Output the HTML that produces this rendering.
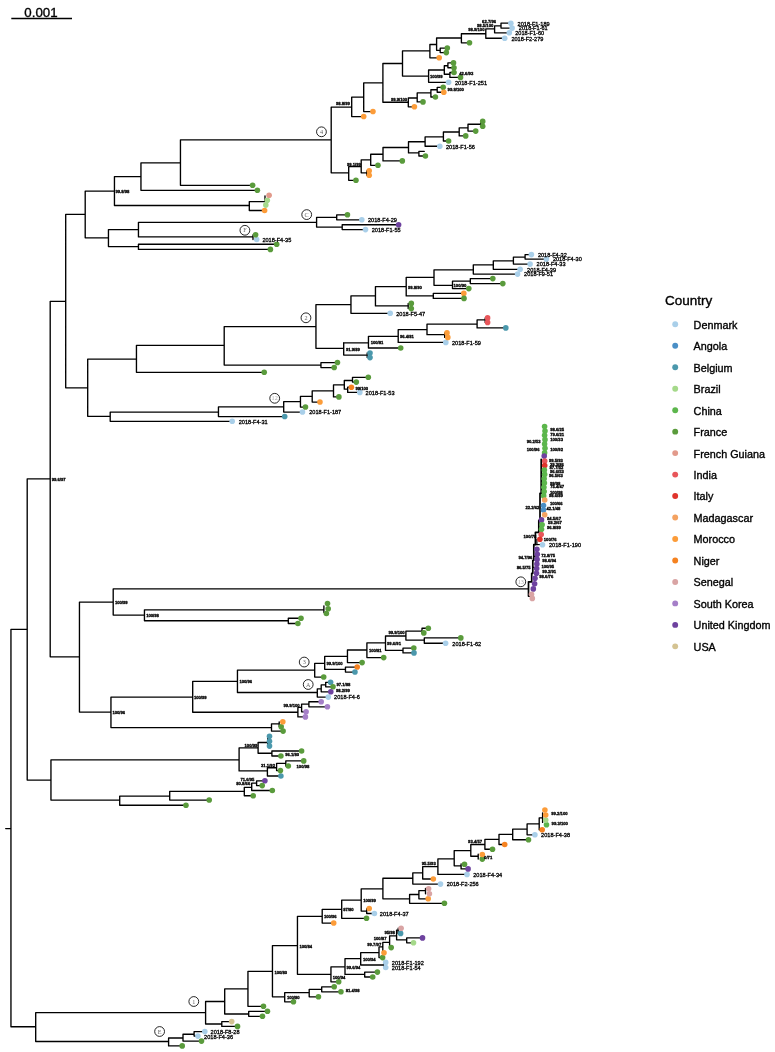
<!DOCTYPE html>
<html><head><meta charset="utf-8"><title>tree</title>
<style>
html,body{margin:0;padding:0;background:#fff;}
body{width:775px;height:1052px;overflow:hidden;font-family:"Liberation Sans",sans-serif;}
svg{display:block;}
.b{stroke:#000;stroke-width:1.35;fill:none;stroke-linecap:round;stroke-linejoin:round;}
.tl{font-family:"Liberation Sans",sans-serif;font-size:5.6px;fill:#000;stroke:#000;stroke-width:0.3;}
.sl{font-family:"Liberation Sans",sans-serif;font-size:4.2px;font-weight:bold;fill:#000;stroke:#000;stroke-width:0.3;}
.ct{font-family:"Liberation Serif",serif;font-size:6.2px;fill:#666;text-anchor:middle;}
.cc{fill:#fff;stroke:#000;stroke-width:0.85;}
.lg{font-family:"Liberation Sans",sans-serif;font-size:10.8px;fill:#000;stroke:#000;stroke-width:0.35;}
</style></head><body>
<svg width="775" height="1052" viewBox="0 0 775 1052">
<defs><filter id="nf" x="0" y="0" width="100%" height="100%" filterUnits="userSpaceOnUse" color-interpolation-filters="sRGB"><feOffset dx="0" dy="0"/></filter></defs>
<rect width="775" height="1052" fill="#fff"/>
<g filter="url(#nf)">

<line x1="11.3" y1="18.4" x2="72" y2="18.4" stroke="#000" stroke-width="1.5"/>
<text x="24.3" y="16.8" style="font-family:'Liberation Sans',sans-serif;font-size:13.3px;fill:#000;stroke:#000;stroke-width:0.35">0.001</text>
<g transform="translate(0.2,0.3)">
<path class="b" d="M5.50 828.25H10.75M10.75 629.00H27.00M27.00 478.50H50.00M50.00 301.00H65.50M65.50 214.00H85.00M85.00 190.75H114.25M114.25 176.25H140.75M140.75 162.50H180.25M180.25 139.50H331.00M180.25 185.00H252.40M140.75 190.00H257.20M114.25 205.20H249.10M249.10 201.30H264.80M249.10 210.20H264.40M85.00 237.50H108.25M108.25 229.25H138.25M138.25 222.00H316.40M138.25 236.60H252.80M108.25 246.25H138.25M138.25 243.90H276.50M138.25 249.10H270.20M331.00 106.75H351.50M351.50 116.25H363.50M351.50 96.75H363.50M363.50 111.25H372.75M363.50 82.50H382.70M382.70 63.20H402.30M402.30 50.60H429.70M429.70 57.50H439.00M429.70 44.20H436.40M436.40 37.70H461.20M461.20 42.50H469.30M461.20 33.40H485.60M485.60 37.90H504.50M485.60 28.60H494.40M494.40 32.50H509.10M494.40 25.50H500.80M500.80 22.90H510.70M500.80 27.80H511.90M436.40 50.00H440.00M440.00 52.30H446.10M440.00 47.80H447.10M402.30 75.80H428.40M428.40 82.00H448.40M428.40 69.70H444.10M444.10 65.50H447.70M447.70 62.60H453.30M447.70 67.40H453.80M444.10 73.90H449.70M449.70 72.20H453.80M449.70 77.10H460.30M382.70 101.90H408.10M408.10 106.50H414.20M408.10 97.70H417.00M417.00 101.60H422.80M417.00 92.60H430.70M430.70 96.70H435.20M430.70 89.40H437.00M437.00 87.00H443.00M437.00 91.90H443.60M331.00 172.50H348.50M348.50 180.00H355.75M348.50 166.25H361.00M361.00 172.50H366.50M361.00 159.50H370.50M370.50 165.00H377.75M370.50 153.90H382.80M382.80 160.60H402.10M382.80 147.20H408.30M408.30 152.60H418.70M418.70 151.00H424.10M418.70 155.70H425.20M408.30 141.40H424.90M424.90 145.90H439.60M424.90 136.60H443.20M443.20 140.70H448.40M443.20 131.70H459.00M459.00 135.60H465.50M459.00 127.50H467.80M467.80 130.80H475.50M467.80 123.90H480.60M316.40 217.00H336.50M336.50 214.50H347.25M336.50 219.50H361.60M316.40 226.75H342.00M342.00 224.40H398.40M342.00 229.30H365.30M65.50 387.50H87.50M87.50 358.75H136.25M136.25 345.00H224.00M224.00 326.25H315.75M315.75 304.25H350.75M350.75 313.00H390.00M350.75 295.50H375.25M375.25 305.60H408.00M375.25 286.30H406.00M406.00 277.00H433.80M433.80 269.50H473.10M473.10 273.80H517.40M473.10 264.50H493.10M493.10 269.00H519.90M493.10 260.50H513.20M513.20 263.80H529.90M513.20 256.80H524.90M524.90 254.30H531.20M524.90 258.80H546.20M433.80 285.00H452.30M452.30 288.30H468.60M452.30 280.80H470.10M470.10 278.30H492.60M470.10 283.30H502.60M406.00 295.60H433.10M433.10 293.10H463.60M433.10 298.10H463.80M315.75 348.00H343.50M343.50 354.80H367.00M343.50 342.50H368.25M368.25 347.70H400.50M368.25 336.00H398.00M398.00 342.10H445.60M398.00 329.40H426.80M426.80 334.40H444.50M426.80 323.90H476.90M476.90 327.60H505.60M476.90 319.60H485.00M224.00 364.75H320.75M320.75 362.25H337.25M320.75 367.25H334.00M136.25 372.00H264.00M87.50 416.00H110.00M110.00 421.00H232.00M110.00 411.75H218.25M218.25 416.25H284.50M218.25 406.60H283.50M283.50 411.75H302.25M283.50 401.25H300.25M300.25 406.75H305.25M300.25 396.00H312.00M312.00 401.75H319.75M312.00 390.50H333.30M333.30 396.60H338.70M333.30 384.60H344.10M344.10 380.20H352.30M352.30 377.00H368.10M352.30 381.80H356.10M344.10 388.90H347.50M347.50 386.90H351.20M347.50 392.10H359.60M50.00 656.50H79.25M79.25 601.80H113.00M113.00 588.60H527.70M113.00 614.75H144.25M144.25 609.50H323.70M144.25 620.40H288.10M288.10 617.90H300.80M288.10 623.20H297.70M79.25 711.75H110.75M110.75 696.75H192.50M192.50 681.00H237.25M237.25 669.75H314.50M314.50 676.75H323.50M314.50 663.00H324.50M324.50 669.00H345.25M345.25 666.75H357.00M345.25 671.75H354.75M324.50 656.00H347.25M347.25 662.30H361.90M347.25 649.70H366.70M366.70 657.30H383.50M366.70 642.50H385.30M385.30 635.70H405.70M405.70 630.80H421.80M421.80 632.60H423.60M421.80 627.90H428.10M405.70 639.80H424.10M424.10 637.60H460.60M424.10 642.90H445.40M385.30 650.10H402.80M402.80 647.80H413.60M402.80 652.60H413.80M237.25 692.20H317.10M317.10 696.80H328.10M317.10 688.50H321.00M321.00 684.60H325.50M325.50 682.00H330.40M325.50 686.50H332.80M321.00 691.50H330.60M192.50 711.90H297.70M297.70 716.60H305.20M297.70 707.00H301.40M301.40 711.50H305.90M301.40 703.80H308.70M308.70 701.40H321.00M308.70 706.50H327.20M110.75 727.25H271.30M271.30 730.80H282.90M271.30 723.50H279.00M27.00 779.75H50.75M50.75 759.60H238.90M238.90 747.50H257.90M257.90 742.20H267.60M257.90 752.90H271.70M271.70 750.70H301.40M271.70 755.70H280.70M238.90 770.60H267.20M267.20 775.70H280.70M267.20 767.40H276.40M276.40 770.30H280.20M276.40 763.10H285.60M285.60 760.60H303.50M285.60 765.70H288.10M50.75 799.75H119.50M119.50 804.90H185.75M119.50 795.75H169.50M169.50 799.75H209.00M169.50 791.00H244.10M244.10 795.40H253.00M244.10 787.10H251.50M251.50 790.20H272.10M251.50 782.80H256.40M256.40 780.50H264.70M256.40 785.30H262.00M10.75 1026.50H35.50M35.50 1041.20H168.40M168.40 1045.60H182.00M168.40 1037.70H182.80M182.80 1040.80H201.30M182.80 1034.00H193.90M193.90 1035.80H197.70M193.90 1031.30H204.60M35.50 1012.30H205.40M205.40 1023.70H221.60M221.60 1021.30H231.50M221.60 1026.10H237.30M205.40 1001.20H224.50M224.50 1013.70H248.50M248.50 1011.00H267.25M248.50 1016.00H262.25M224.50 988.50H247.75M247.75 1006.00H263.25M247.75 971.00H272.25M272.25 996.50H284.50M284.50 1001.50H293.25M284.50 992.25H309.00M309.00 996.50H318.25M309.00 989.00H321.50M321.50 986.50H334.00M321.50 991.50H340.75M272.25 945.25H297.25M297.25 916.00H322.00M322.00 922.75H333.50M322.00 909.00H341.50M341.50 918.00H366.30M341.50 899.75H361.00M361.00 910.75H366.50M366.50 913.20H372.00M361.00 888.50H382.70M382.70 877.90H412.60M412.60 883.80H440.30M412.60 872.50H422.50M422.50 878.70H433.10M422.50 866.30H437.70M437.70 874.10H466.80M437.70 858.60H454.00M454.00 865.50H460.90M460.90 868.60H467.90M454.00 850.30H470.60M470.60 855.90H478.00M470.60 844.20H484.70M484.70 848.90H492.30M484.70 839.10H498.80M498.80 844.20H504.50M498.80 834.00H512.50M512.50 839.40H528.30M512.50 828.80H526.90M526.90 834.50H534.70M526.90 823.60H539.00M539.00 829.40H542.00M539.00 817.50H542.40M382.70 898.50H409.40M409.40 903.00H444.20M409.40 894.20H418.70M418.70 898.50H428.00M418.70 890.30H425.30M297.25 974.00H330.75M330.75 981.50H338.50M330.75 966.50H344.80M344.80 974.10H364.50M364.50 971.80H377.20M364.50 976.70H372.50M344.80 958.30H360.50M360.50 964.70H383.50M360.50 952.30H378.80M378.80 957.30H382.40M378.80 946.60H382.60M382.60 942.10H389.40M389.40 935.60H396.40M396.40 929.80H398.00M396.40 939.50H406.50M406.50 937.60H422.30M406.50 942.50H413.30M10.75 629.00V1026.50M27.00 478.50V779.75M50.00 301.00V656.50M65.50 214.00V387.50M85.00 190.75V237.50M114.25 176.25V205.20M140.75 162.50V190.00M180.25 139.50V185.00M249.10 201.30V210.20M264.80 195.50V201.30M108.25 229.25V246.25M138.25 222.00V236.60M252.80 234.50V239.20M138.25 243.90V249.10M331.00 106.75V172.50M351.50 96.75V116.25M363.50 82.50V111.25M382.70 63.20V101.90M402.30 50.60V75.80M429.70 44.20V57.50M436.40 37.70V50.00M461.20 33.40V42.50M485.60 28.60V37.90M494.40 25.50V32.50M500.80 22.90V27.80M440.00 47.80V52.30M428.40 69.70V82.00M444.10 65.50V73.90M447.70 62.60V67.40M449.70 72.20V77.10M408.10 97.70V106.50M417.00 92.60V101.60M430.70 89.40V96.70M437.00 87.00V91.90M348.50 166.25V180.00M361.00 159.50V172.50M366.50 170.50V175.00M370.50 153.90V165.00M382.80 147.20V160.60M408.30 141.40V152.60M418.70 151.00V155.70M424.90 136.60V145.90M443.20 131.70V140.70M459.00 127.50V135.60M467.80 123.90V130.80M480.60 121.10V126.10M316.40 217.00V226.75M336.50 214.50V219.50M342.00 224.40V229.30M87.50 358.75V416.00M136.25 345.00V372.00M224.00 326.25V364.75M315.75 304.25V348.00M350.75 295.50V313.00M375.25 286.30V305.60M408.00 303.10V308.30M406.00 277.00V295.60M433.80 269.50V285.00M473.10 264.50V273.80M493.10 260.50V269.00M513.20 256.80V263.80M524.90 254.30V258.80M452.30 280.80V288.30M470.10 278.30V283.30M433.10 293.10V298.10M343.50 342.30V354.80M367.00 352.70V357.30M368.25 336.00V347.70M398.00 329.40V342.10M426.80 323.90V334.40M444.50 332.60V337.10M476.90 319.60V327.60M485.00 317.60V322.10M320.75 362.25V367.25M110.00 411.75V421.00M218.25 406.75V416.25M283.50 401.25V411.75M300.25 396.00V406.75M312.00 390.50V401.75M333.30 384.60V396.60M344.10 380.20V388.90M352.30 377.00V381.80M347.50 386.90V392.10M79.25 601.80V711.75M113.00 588.60V614.75M144.25 609.50V620.40M323.70 605.50V612.20M288.10 617.90V623.20M110.75 696.75V727.25M192.50 681.00V711.90M237.25 669.75V692.20M314.50 663.00V676.75M324.50 656.00V669.00M345.25 666.75V671.75M347.25 649.70V662.30M366.70 642.50V657.30M385.30 635.70V650.10M405.70 630.80V639.80M421.80 627.90V632.60M424.10 637.60V642.90M402.80 647.80V652.60M317.10 688.50V696.80M321.00 684.60V691.50M325.50 682.00V686.50M297.70 707.00V716.60M301.40 703.80V711.50M308.70 701.40V706.50M271.30 723.50V730.80M279.00 721.50V726.30M50.75 759.60V799.75M238.90 747.50V770.60M257.90 742.20V752.90M267.60 736.00V745.80M271.70 750.70V755.70M267.20 767.40V775.70M276.40 763.10V770.30M285.60 760.60V765.70M119.50 795.75V804.90M169.50 791.00V799.75M244.10 787.10V795.40M251.50 782.80V790.20M256.40 780.50V785.30M35.50 1012.30V1041.20M168.40 1037.70V1045.60M182.80 1034.00V1040.80M193.90 1031.30V1035.80M205.40 1001.20V1023.70M221.60 1021.30V1026.10M224.50 988.50V1013.70M248.50 1011.00V1016.00M247.75 971.00V1006.00M272.25 945.25V996.50M284.50 992.25V1001.50M309.00 989.00V996.50M321.50 986.50V991.50M297.25 916.00V974.00M322.00 909.00V922.75M341.50 899.75V918.00M361.00 888.50V910.75M366.50 908.25V913.20M382.70 877.90V898.50M412.60 872.50V883.80M422.50 866.30V878.70M437.70 858.60V874.10M454.00 850.30V865.50M460.90 863.50V868.60M470.60 844.20V855.90M478.00 853.90V858.80M484.70 839.10V848.90M498.80 834.00V844.20M512.50 828.80V839.40M526.90 823.60V834.50M539.00 817.50V829.40M542.40 812.50V822.10M409.40 894.20V903.00M418.70 890.30V898.50M425.30 888.00V893.40M330.75 966.50V981.50M344.80 958.30V974.10M364.50 971.80V976.70M360.50 952.30V964.70M383.50 962.10V967.30M378.80 946.60V957.30M382.60 942.10V952.40M389.40 935.60V947.30M396.40 929.80V939.50M398.00 927.90V933.10M406.50 937.60V942.50"/>
<path d="M530.5 595.8H528.3V581.5H531.5V573H532.6V560H533.6V544.3H535.2V532H538.6V520H539.8V493H541V459" fill="none" stroke="#000" stroke-width="1.7" stroke-linejoin="round" stroke-linecap="round"/>
<line x1="536.7" y1="539" x2="536.7" y2="544.3" stroke="#000" stroke-width="1.15" stroke-linecap="square"/>
<line x1="535.2" y1="544.3" x2="540" y2="544.3" stroke="#000" stroke-width="1.15" stroke-linecap="square"/>
<line x1="533.6" y1="556" x2="535" y2="556" stroke="#000" stroke-width="1.15" stroke-linecap="square"/>
<line x1="532.6" y1="567" x2="534" y2="567" stroke="#000" stroke-width="1.15" stroke-linecap="square"/>
<circle cx="252.40" cy="185.00" r="2.8" fill="#5a9b3c"/>
<circle cx="257.20" cy="190.00" r="2.8" fill="#5a9b3c"/>
<circle cx="264.40" cy="210.20" r="2.8" fill="#fc9c39"/>
<circle cx="265.60" cy="204.80" r="2.8" fill="#a5d98a"/>
<circle cx="267.10" cy="199.90" r="2.8" fill="#a5d98a"/>
<circle cx="268.90" cy="195.00" r="2.8" fill="#e29a8b"/>
<circle cx="256.50" cy="239.20" r="2.8" fill="#a9cfe9"/>
<circle cx="255.40" cy="234.40" r="2.8" fill="#5a9b3c"/>
<circle cx="276.50" cy="243.90" r="2.8" fill="#5a9b3c"/>
<circle cx="270.20" cy="249.10" r="2.8" fill="#5a9b3c"/>
<circle cx="363.50" cy="116.25" r="2.8" fill="#fc9c39"/>
<circle cx="372.75" cy="111.25" r="2.8" fill="#fc9c39"/>
<circle cx="439.00" cy="57.50" r="2.8" fill="#fc9c39"/>
<circle cx="469.30" cy="42.50" r="2.8" fill="#5a9b3c"/>
<circle cx="504.50" cy="37.90" r="2.8" fill="#a9cfe9"/>
<circle cx="509.10" cy="32.50" r="2.8" fill="#a9cfe9"/>
<circle cx="510.70" cy="22.90" r="2.8" fill="#a9cfe9"/>
<circle cx="511.90" cy="27.80" r="2.8" fill="#a9cfe9"/>
<circle cx="446.10" cy="52.30" r="2.8" fill="#5a9b3c"/>
<circle cx="447.10" cy="47.80" r="2.8" fill="#5a9b3c"/>
<circle cx="448.40" cy="82.00" r="2.8" fill="#a9cfe9"/>
<circle cx="453.30" cy="62.60" r="2.8" fill="#5a9b3c"/>
<circle cx="453.80" cy="67.40" r="2.8" fill="#5a9b3c"/>
<circle cx="453.80" cy="72.20" r="2.8" fill="#5a9b3c"/>
<circle cx="460.30" cy="77.10" r="2.8" fill="#5a9b3c"/>
<circle cx="414.20" cy="106.50" r="2.8" fill="#fc9c39"/>
<circle cx="422.80" cy="101.60" r="2.8" fill="#5a9b3c"/>
<circle cx="435.20" cy="96.70" r="2.8" fill="#5a9b3c"/>
<circle cx="443.00" cy="87.00" r="2.8" fill="#5a9b3c"/>
<circle cx="443.60" cy="91.90" r="2.8" fill="#fc9c39"/>
<circle cx="355.75" cy="180.00" r="2.8" fill="#5a9b3c"/>
<circle cx="369.00" cy="170.50" r="2.8" fill="#fc9c39"/>
<circle cx="369.00" cy="175.00" r="2.8" fill="#fc9c39"/>
<circle cx="377.75" cy="165.00" r="2.8" fill="#5a9b3c"/>
<circle cx="402.10" cy="160.60" r="2.8" fill="#5a9b3c"/>
<circle cx="425.20" cy="155.70" r="2.8" fill="#5a9b3c"/>
<circle cx="439.60" cy="145.90" r="2.8" fill="#a9cfe9"/>
<circle cx="448.40" cy="140.70" r="2.8" fill="#5a9b3c"/>
<circle cx="465.50" cy="135.60" r="2.8" fill="#5a9b3c"/>
<circle cx="475.50" cy="130.80" r="2.8" fill="#5a9b3c"/>
<circle cx="482.50" cy="126.00" r="2.8" fill="#5a9b3c"/>
<circle cx="482.50" cy="121.10" r="2.8" fill="#5a9b3c"/>
<circle cx="347.25" cy="214.50" r="2.8" fill="#5a9b3c"/>
<circle cx="361.60" cy="219.50" r="2.8" fill="#a9cfe9"/>
<circle cx="398.40" cy="224.40" r="2.8" fill="#6e429f"/>
<circle cx="365.30" cy="229.30" r="2.8" fill="#a9cfe9"/>
<circle cx="390.00" cy="313.00" r="2.8" fill="#a9cfe9"/>
<circle cx="411.10" cy="308.30" r="2.8" fill="#5a9b3c"/>
<circle cx="411.10" cy="303.10" r="2.8" fill="#5a9b3c"/>
<circle cx="517.40" cy="273.80" r="2.8" fill="#a9cfe9"/>
<circle cx="519.90" cy="269.00" r="2.8" fill="#a9cfe9"/>
<circle cx="529.90" cy="263.80" r="2.8" fill="#a9cfe9"/>
<circle cx="531.20" cy="254.30" r="2.8" fill="#a9cfe9"/>
<circle cx="546.20" cy="258.80" r="2.8" fill="#a9cfe9"/>
<circle cx="468.60" cy="288.30" r="2.8" fill="#5a9b3c"/>
<circle cx="492.60" cy="278.30" r="2.8" fill="#5a9b3c"/>
<circle cx="502.60" cy="283.30" r="2.8" fill="#5a9b3c"/>
<circle cx="463.60" cy="293.10" r="2.8" fill="#fc9c39"/>
<circle cx="463.80" cy="298.10" r="2.8" fill="#5a9b3c"/>
<circle cx="369.80" cy="352.70" r="2.8" fill="#4b98ac"/>
<circle cx="369.80" cy="357.30" r="2.8" fill="#4b98ac"/>
<circle cx="400.50" cy="347.70" r="2.8" fill="#5a9b3c"/>
<circle cx="445.60" cy="342.10" r="2.8" fill="#a9cfe9"/>
<circle cx="446.80" cy="332.60" r="2.8" fill="#fc9c39"/>
<circle cx="447.60" cy="337.10" r="2.8" fill="#fc9c39"/>
<circle cx="505.60" cy="327.60" r="2.8" fill="#4b98ac"/>
<circle cx="487.40" cy="317.60" r="2.8" fill="#e8565a"/>
<circle cx="487.40" cy="322.10" r="2.8" fill="#e8565a"/>
<circle cx="337.25" cy="362.25" r="2.8" fill="#5a9b3c"/>
<circle cx="334.00" cy="367.25" r="2.8" fill="#5a9b3c"/>
<circle cx="264.00" cy="372.00" r="2.8" fill="#5a9b3c"/>
<circle cx="232.00" cy="421.00" r="2.8" fill="#a9cfe9"/>
<circle cx="284.50" cy="416.25" r="2.8" fill="#4b98ac"/>
<circle cx="302.25" cy="411.75" r="2.8" fill="#a9cfe9"/>
<circle cx="305.25" cy="406.75" r="2.8" fill="#5a9b3c"/>
<circle cx="319.75" cy="401.75" r="2.8" fill="#fc9c39"/>
<circle cx="338.70" cy="396.60" r="2.8" fill="#5a9b3c"/>
<circle cx="368.10" cy="377.00" r="2.8" fill="#5a9b3c"/>
<circle cx="356.10" cy="381.80" r="2.8" fill="#5a9b3c"/>
<circle cx="351.20" cy="386.90" r="2.8" fill="#f58220"/>
<circle cx="359.60" cy="392.10" r="2.8" fill="#a9cfe9"/>
<circle cx="326.20" cy="613.20" r="2.8" fill="#5a9b3c"/>
<circle cx="328.00" cy="608.40" r="2.8" fill="#5a9b3c"/>
<circle cx="327.30" cy="603.20" r="2.8" fill="#5a9b3c"/>
<circle cx="300.80" cy="617.90" r="2.8" fill="#5a9b3c"/>
<circle cx="297.70" cy="623.20" r="2.8" fill="#5a9b3c"/>
<circle cx="323.50" cy="676.75" r="2.8" fill="#5a9b3c"/>
<circle cx="357.00" cy="666.75" r="2.8" fill="#f58220"/>
<circle cx="354.75" cy="671.75" r="2.8" fill="#4b98ac"/>
<circle cx="361.90" cy="662.30" r="2.8" fill="#5a9b3c"/>
<circle cx="383.50" cy="657.30" r="2.8" fill="#5a9b3c"/>
<circle cx="423.60" cy="632.60" r="2.8" fill="#5a9b3c"/>
<circle cx="428.10" cy="627.90" r="2.8" fill="#5a9b3c"/>
<circle cx="460.60" cy="637.60" r="2.8" fill="#5a9b3c"/>
<circle cx="445.40" cy="642.90" r="2.8" fill="#a9cfe9"/>
<circle cx="413.60" cy="647.80" r="2.8" fill="#5a9b3c"/>
<circle cx="413.80" cy="652.60" r="2.8" fill="#4b98ac"/>
<circle cx="328.10" cy="696.80" r="2.8" fill="#a9cfe9"/>
<circle cx="330.40" cy="682.00" r="2.8" fill="#4b98ac"/>
<circle cx="332.80" cy="686.50" r="2.8" fill="#5a9b3c"/>
<circle cx="330.60" cy="691.50" r="2.8" fill="#6e429f"/>
<circle cx="305.20" cy="716.60" r="2.8" fill="#a57fc8"/>
<circle cx="305.90" cy="711.50" r="2.8" fill="#a57fc8"/>
<circle cx="321.00" cy="701.40" r="2.8" fill="#a57fc8"/>
<circle cx="327.20" cy="706.50" r="2.8" fill="#a57fc8"/>
<circle cx="282.90" cy="730.80" r="2.8" fill="#5a9b3c"/>
<circle cx="281.00" cy="726.40" r="2.8" fill="#5a9b3c"/>
<circle cx="282.60" cy="721.40" r="2.8" fill="#fc9c39"/>
<circle cx="269.30" cy="736.00" r="2.8" fill="#4b98ac"/>
<circle cx="269.30" cy="740.90" r="2.8" fill="#4b98ac"/>
<circle cx="269.30" cy="745.80" r="2.8" fill="#4b98ac"/>
<circle cx="301.40" cy="750.70" r="2.8" fill="#5a9b3c"/>
<circle cx="280.70" cy="755.70" r="2.8" fill="#5a9b3c"/>
<circle cx="280.70" cy="775.70" r="2.8" fill="#4b98ac"/>
<circle cx="280.20" cy="770.30" r="2.8" fill="#5a9b3c"/>
<circle cx="303.50" cy="760.60" r="2.8" fill="#5a9b3c"/>
<circle cx="288.10" cy="765.70" r="2.8" fill="#5a9b3c"/>
<circle cx="185.75" cy="804.90" r="2.8" fill="#5a9b3c"/>
<circle cx="209.00" cy="799.75" r="2.8" fill="#5a9b3c"/>
<circle cx="253.00" cy="795.40" r="2.8" fill="#5a9b3c"/>
<circle cx="272.10" cy="790.20" r="2.8" fill="#5a9b3c"/>
<circle cx="264.70" cy="780.50" r="2.8" fill="#6e429f"/>
<circle cx="262.00" cy="785.30" r="2.8" fill="#5a9b3c"/>
<circle cx="182.00" cy="1045.60" r="2.8" fill="#5a9b3c"/>
<circle cx="201.30" cy="1040.80" r="2.8" fill="#5a9b3c"/>
<circle cx="197.70" cy="1035.80" r="2.8" fill="#a9cfe9"/>
<circle cx="204.60" cy="1031.30" r="2.8" fill="#a9cfe9"/>
<circle cx="231.50" cy="1021.30" r="2.8" fill="#d4c392"/>
<circle cx="237.30" cy="1026.10" r="2.8" fill="#5a9b3c"/>
<circle cx="267.25" cy="1011.00" r="2.8" fill="#5a9b3c"/>
<circle cx="262.25" cy="1016.00" r="2.8" fill="#5a9b3c"/>
<circle cx="263.25" cy="1006.00" r="2.8" fill="#5a9b3c"/>
<circle cx="293.25" cy="1001.50" r="2.8" fill="#5a9b3c"/>
<circle cx="318.25" cy="996.50" r="2.8" fill="#5a9b3c"/>
<circle cx="334.00" cy="986.50" r="2.8" fill="#5a9b3c"/>
<circle cx="340.75" cy="991.50" r="2.8" fill="#5a9b3c"/>
<circle cx="333.50" cy="922.75" r="2.8" fill="#fc9c39"/>
<circle cx="366.30" cy="918.00" r="2.8" fill="#5a9b3c"/>
<circle cx="374.20" cy="913.20" r="2.8" fill="#a9cfe9"/>
<circle cx="369.00" cy="908.25" r="2.8" fill="#fc9c39"/>
<circle cx="440.30" cy="883.80" r="2.8" fill="#a9cfe9"/>
<circle cx="433.10" cy="878.70" r="2.8" fill="#fc9c39"/>
<circle cx="466.80" cy="874.10" r="2.8" fill="#a9cfe9"/>
<circle cx="464.30" cy="864.00" r="2.8" fill="#5a9b3c"/>
<circle cx="467.90" cy="868.60" r="2.8" fill="#6e429f"/>
<circle cx="482.10" cy="858.80" r="2.8" fill="#5a9b3c"/>
<circle cx="482.10" cy="854.20" r="2.8" fill="#fc9c39"/>
<circle cx="492.30" cy="848.90" r="2.8" fill="#5a9b3c"/>
<circle cx="504.50" cy="844.20" r="2.8" fill="#f58220"/>
<circle cx="528.30" cy="839.40" r="2.8" fill="#5a9b3c"/>
<circle cx="534.70" cy="834.50" r="2.8" fill="#a9cfe9"/>
<circle cx="542.00" cy="829.40" r="2.8" fill="#f58220"/>
<circle cx="546.30" cy="824.40" r="2.8" fill="#5cb64c"/>
<circle cx="545.50" cy="819.80" r="2.8" fill="#a5d98a"/>
<circle cx="545.50" cy="814.70" r="2.8" fill="#fc9c39"/>
<circle cx="544.70" cy="809.70" r="2.8" fill="#fc9c39"/>
<circle cx="444.20" cy="903.00" r="2.8" fill="#5a9b3c"/>
<circle cx="428.00" cy="898.50" r="2.8" fill="#fc9c39"/>
<circle cx="429.20" cy="893.40" r="2.8" fill="#d9a4a4"/>
<circle cx="428.40" cy="888.50" r="2.8" fill="#d9a4a4"/>
<circle cx="338.50" cy="981.50" r="2.8" fill="#5a9b3c"/>
<circle cx="377.20" cy="971.80" r="2.8" fill="#5a9b3c"/>
<circle cx="372.50" cy="976.70" r="2.8" fill="#5a9b3c"/>
<circle cx="385.50" cy="962.10" r="2.8" fill="#a9cfe9"/>
<circle cx="385.50" cy="967.20" r="2.8" fill="#a9cfe9"/>
<circle cx="382.40" cy="957.30" r="2.8" fill="#5a9b3c"/>
<circle cx="383.80" cy="952.40" r="2.8" fill="#fc9c39"/>
<circle cx="391.00" cy="947.30" r="2.8" fill="#5a9b3c"/>
<circle cx="400.40" cy="933.10" r="2.8" fill="#4b98ac"/>
<circle cx="400.90" cy="927.90" r="2.8" fill="#d9a4a4"/>
<circle cx="422.30" cy="937.60" r="2.8" fill="#6e429f"/>
<circle cx="413.30" cy="942.50" r="2.8" fill="#a5d98a"/>
<circle cx="544.40" cy="426.30" r="2.8" fill="#5cb64c"/>
<circle cx="544.80" cy="430.65" r="2.8" fill="#5cb64c"/>
<circle cx="544.40" cy="435.00" r="2.8" fill="#5cb64c"/>
<circle cx="544.80" cy="439.35" r="2.8" fill="#5cb64c"/>
<circle cx="544.40" cy="443.70" r="2.8" fill="#5cb64c"/>
<circle cx="544.80" cy="448.05" r="2.8" fill="#5cb64c"/>
<circle cx="544.40" cy="452.40" r="2.8" fill="#5cb64c"/>
<circle cx="544.00" cy="455.80" r="2.8" fill="#6e429f"/>
<circle cx="544.50" cy="460.80" r="2.8" fill="#e8565a"/>
<circle cx="544.50" cy="465.30" r="2.8" fill="#e0342c"/>
<circle cx="544.20" cy="469.80" r="2.8" fill="#5cb64c"/>
<circle cx="544.43" cy="474.10" r="2.8" fill="#5cb64c"/>
<circle cx="543.96" cy="478.40" r="2.8" fill="#5cb64c"/>
<circle cx="544.19" cy="482.70" r="2.8" fill="#5cb64c"/>
<circle cx="543.72" cy="487.00" r="2.8" fill="#5cb64c"/>
<circle cx="543.95" cy="491.30" r="2.8" fill="#5cb64c"/>
<circle cx="543.48" cy="495.60" r="2.8" fill="#5cb64c"/>
<circle cx="544.50" cy="499.70" r="2.8" fill="#f4a261"/>
<circle cx="543.30" cy="505.20" r="2.8" fill="#4a8fc6"/>
<circle cx="543.30" cy="509.70" r="2.8" fill="#4a8fc6"/>
<circle cx="544.50" cy="514.50" r="2.8" fill="#f4a261"/>
<circle cx="541.30" cy="519.60" r="2.8" fill="#6e429f"/>
<circle cx="541.90" cy="524.50" r="2.8" fill="#5cb64c"/>
<circle cx="541.30" cy="529.00" r="2.8" fill="#5cb64c"/>
<circle cx="541.00" cy="534.20" r="2.8" fill="#e8565a"/>
<circle cx="539.70" cy="539.00" r="2.8" fill="#e0342c"/>
<circle cx="542.30" cy="544.50" r="2.8" fill="#a9cfe9"/>
<circle cx="536.70" cy="549.00" r="2.8" fill="#6e429f"/>
<circle cx="537.10" cy="554.00" r="2.8" fill="#6e429f"/>
<circle cx="536.90" cy="559.10" r="2.8" fill="#6e429f"/>
<circle cx="536.70" cy="563.70" r="2.8" fill="#6e429f"/>
<circle cx="536.50" cy="568.30" r="2.8" fill="#6e429f"/>
<circle cx="536.30" cy="573.00" r="2.8" fill="#6e429f"/>
<circle cx="534.80" cy="578.00" r="2.8" fill="#6e429f"/>
<circle cx="534.40" cy="583.40" r="2.8" fill="#6e429f"/>
<circle cx="533.10" cy="588.60" r="2.8" fill="#6e429f"/>
<circle cx="531.30" cy="593.90" r="2.8" fill="#d9a4a4"/>
<circle cx="532.10" cy="598.10" r="2.8" fill="#d9a4a4"/>
<circle class="cc" cx="321.25" cy="131.50" r="4.9"/><text class="ct" x="321.25" y="133.70">4</text>
<circle class="cc" cx="306.50" cy="214.30" r="4.9"/><text class="ct" x="306.50" y="216.50">C</text>
<circle class="cc" cx="244.70" cy="230.00" r="4.9"/><text class="ct" x="244.70" y="232.20">F</text>
<circle class="cc" cx="305.75" cy="317.50" r="4.9"/><text class="ct" x="305.75" y="319.70">2</text>
<circle class="cc" cx="274.50" cy="398.00" r="4.9"/><text class="ct" x="274.50" y="400.20" fill="#aaa" style="fill:#aaa">12</text>
<circle class="cc" cx="520.60" cy="581.50" r="4.9"/><text class="ct" x="520.60" y="583.70" fill="#aaa" style="fill:#aaa">13</text>
<circle class="cc" cx="304.00" cy="661.75" r="4.9"/><text class="ct" x="304.00" y="663.95">3</text>
<circle class="cc" cx="308.00" cy="684.20" r="4.9"/><text class="ct" x="308.00" y="686.40">A</text>
<circle class="cc" cx="159.40" cy="1031.20" r="4.9"/><text class="ct" x="159.40" y="1033.40">E</text>
<circle class="cc" cx="193.60" cy="1001.20" r="4.9"/><text class="ct" x="193.60" y="1003.40">1</text>
<text class="tl" x="262.20" y="241.60">2018-F4-35</text>
<text class="tl" x="511.20" y="40.30">2018-F2-279</text>
<text class="tl" x="515.00" y="34.90">2018-F1-60</text>
<text class="tl" x="517.40" y="25.30">2018-F1-189</text>
<text class="tl" x="518.60" y="30.20">2018-F1-61</text>
<text class="tl" x="454.80" y="84.40">2018-F1-251</text>
<text class="tl" x="445.80" y="148.30">2018-F1-56</text>
<text class="tl" x="367.80" y="222.00">2018-F4-29</text>
<text class="tl" x="371.50" y="231.80">2018-F1-55</text>
<text class="tl" x="396.00" y="315.50">2018-F5-47</text>
<text class="tl" x="523.90" y="276.20">2018-F9-51</text>
<text class="tl" x="526.90" y="271.40">2018-F4-39</text>
<text class="tl" x="536.40" y="266.20">2018-F4-33</text>
<text class="tl" x="537.70" y="256.70">2018-F4-32</text>
<text class="tl" x="552.70" y="261.20">2018-F4-30</text>
<text class="tl" x="451.80" y="344.50">2018-F1-59</text>
<text class="tl" x="238.50" y="423.40">2018-F4-31</text>
<text class="tl" x="309.00" y="414.20">2018-F1-187</text>
<text class="tl" x="365.40" y="394.50">2018-F1-53</text>
<text class="tl" x="452.10" y="645.30">2018-F1-62</text>
<text class="tl" x="333.90" y="699.20">2018-F4-6</text>
<text class="tl" x="203.90" y="1038.60">2018-F4-36</text>
<text class="tl" x="210.40" y="1033.40">2018-F8-28</text>
<text class="tl" x="379.60" y="915.60">2018-F4-37</text>
<text class="tl" x="446.50" y="886.20">2018-F2-256</text>
<text class="tl" x="473.00" y="876.50">2018-F4-34</text>
<text class="tl" x="540.90" y="836.90">2018-F4-38</text>
<text class="tl" x="391.60" y="965.00">2018-F1-192</text>
<text class="tl" x="391.60" y="969.90">2018-F1-54</text>
<text class="tl" x="548.80" y="546.90">2018-F1-190</text>
<text class="sl" x="115.20" y="192.70">99.8/98</text>
<text class="sl" x="335.70" y="104.70">98.8/99</text>
<text class="sl" x="346.70" y="165.30">99.1/99</text>
<text class="sl" x="390.70" y="100.90">99.9/100</text>
<text class="sl" x="429.70" y="78.00">100/99</text>
<text class="sl" x="459.10" y="74.50">42.6/93</text>
<text class="sl" x="447.40" y="91.10">99.8/100</text>
<text class="sl" x="481.90" y="23.10">62.7/96</text>
<text class="sl" x="476.80" y="27.00">98.5/100</text>
<text class="sl" x="468.00" y="31.20">98.9/100</text>
<text class="sl" x="407.70" y="288.30">99.8/90</text>
<text class="sl" x="453.30" y="287.10">100/90</text>
<text class="sl" x="345.70" y="350.70">91.9/89</text>
<text class="sl" x="370.45" y="344.00">100/81</text>
<text class="sl" x="399.70" y="338.10">96.4/81</text>
<text class="sl" x="355.20" y="389.50">99/100</text>
<text class="sl" x="51.45" y="480.75">99.6/97</text>
<text class="sl" x="114.70" y="603.75">100/99</text>
<text class="sl" x="145.95" y="617.00">100/98</text>
<text class="sl" x="112.20" y="714.00">100/96</text>
<text class="sl" x="193.70" y="698.75">100/99</text>
<text class="sl" x="239.20" y="683.00">100/96</text>
<text class="sl" x="326.20" y="665.00">99.9/100</text>
<text class="sl" x="368.70" y="651.60">100/81</text>
<text class="sl" x="388.20" y="633.50">99.9/100</text>
<text class="sl" x="386.80" y="644.90">99.6/91</text>
<text class="sl" x="336.20" y="685.50">97.1/88</text>
<text class="sl" x="335.70" y="692.00">98.2/99</text>
<text class="sl" x="283.20" y="706.30">99.9/100</text>
<text class="sl" x="244.30" y="746.50">100/99</text>
<text class="sl" x="285.00" y="756.20">96.1/80</text>
<text class="sl" x="260.80" y="766.50">31.1/92</text>
<text class="sl" x="296.30" y="767.30">100/98</text>
<text class="sl" x="240.20" y="781.10">71.6/95</text>
<text class="sl" x="236.10" y="785.00">80.8/66</text>
<text class="sl" x="274.20" y="973.50">100/80</text>
<text class="sl" x="299.20" y="947.25">100/84</text>
<text class="sl" x="323.70" y="918.00">100/96</text>
<text class="sl" x="342.95" y="911.00">87/80</text>
<text class="sl" x="362.95" y="901.25">100/99</text>
<text class="sl" x="332.45" y="978.50">100/94</text>
<text class="sl" x="346.20" y="968.80">99.6/94</text>
<text class="sl" x="362.70" y="960.60">100/94</text>
<text class="sl" x="367.10" y="945.90">99.7/97</text>
<text class="sl" x="373.50" y="940.10">100/87</text>
<text class="sl" x="384.20" y="933.90">95/98</text>
<text class="sl" x="286.70" y="998.75">100/80</text>
<text class="sl" x="345.45" y="991.25">81.4/98</text>
<text class="sl" x="421.60" y="864.70">95.5/93</text>
<text class="sl" x="467.90" y="842.60">93.4/57</text>
<text class="sl" x="483.90" y="858.50">0/71</text>
<text class="sl" x="551.10" y="814.60">99.2/100</text>
<text class="sl" x="551.40" y="824.40">99.3/100</text>
<text class="sl" x="550.00" y="430.70">98.6/25</text>
<text class="sl" x="550.00" y="435.60">79.6/21</text>
<text class="sl" x="550.00" y="440.60">100/33</text>
<text class="sl" x="550.00" y="450.70">100/92</text>
<text class="sl" x="548.70" y="461.90">99.5/93</text>
<text class="sl" x="549.70" y="465.30">39.3/86</text>
<text class="sl" x="549.20" y="468.40">87.7/52</text>
<text class="sl" x="549.70" y="473.00">96.6/53</text>
<text class="sl" x="548.70" y="477.10">96.5/63</text>
<text class="sl" x="549.70" y="484.90">99/98</text>
<text class="sl" x="550.00" y="488.10">75.4/47</text>
<text class="sl" x="549.70" y="493.30">100/98</text>
<text class="sl" x="548.70" y="496.50">98.6/89</text>
<text class="sl" x="549.70" y="504.60">100/66</text>
<text class="sl" x="546.20" y="509.40">42.1/48</text>
<text class="sl" x="526.50" y="443.20">90.2/53</text>
<text class="sl" x="526.50" y="450.70">100/96</text>
<text class="sl" x="525.20" y="508.40">22.2/62</text>
<text class="sl" x="546.80" y="520.20">94.5/67</text>
<text class="sl" x="547.70" y="524.10">59.2/67</text>
<text class="sl" x="546.70" y="528.30">96.8/89</text>
<text class="sl" x="523.30" y="538.00">100/78</text>
<text class="sl" x="543.60" y="540.50">100/76</text>
<text class="sl" x="541.00" y="557.00">72.8/75</text>
<text class="sl" x="542.00" y="562.10">98.6/94</text>
<text class="sl" x="541.20" y="568.00">100/95</text>
<text class="sl" x="542.00" y="572.70">99.2/91</text>
<text class="sl" x="539.10" y="577.40">98.6/76</text>
<text class="sl" x="518.20" y="558.30">94.7/96</text>
<text class="sl" x="516.50" y="568.60">86.5/75</text>
</g>
<text x="665.1" y="305.1" style="font-family:'Liberation Sans',sans-serif;font-size:13.5px;fill:#000;stroke:#000;stroke-width:0.35">Country</text>
<circle cx="675.2" cy="324.30" r="2.95" fill="#a9cfe9"/><text class="lg" x="693.6" y="328.70">Denmark</text>
<circle cx="675.2" cy="345.77" r="2.95" fill="#4a8fc6"/><text class="lg" x="693.6" y="350.17">Angola</text>
<circle cx="675.2" cy="367.24" r="2.95" fill="#4b98ac"/><text class="lg" x="693.6" y="371.64">Belgium</text>
<circle cx="675.2" cy="388.71" r="2.95" fill="#a5d98a"/><text class="lg" x="693.6" y="393.11">Brazil</text>
<circle cx="675.2" cy="410.18" r="2.95" fill="#5cb64c"/><text class="lg" x="693.6" y="414.58">China</text>
<circle cx="675.2" cy="431.65" r="2.95" fill="#5a9b3c"/><text class="lg" x="693.6" y="436.05">France</text>
<circle cx="675.2" cy="453.12" r="2.95" fill="#e29a8b"/><text class="lg" x="693.6" y="457.52">French Guiana</text>
<circle cx="675.2" cy="474.59" r="2.95" fill="#e8565a"/><text class="lg" x="693.6" y="478.99">India</text>
<circle cx="675.2" cy="496.06" r="2.95" fill="#e0342c"/><text class="lg" x="693.6" y="500.46">Italy</text>
<circle cx="675.2" cy="517.53" r="2.95" fill="#f4a261"/><text class="lg" x="693.6" y="521.93">Madagascar</text>
<circle cx="675.2" cy="539.00" r="2.95" fill="#fc9c39"/><text class="lg" x="693.6" y="543.40">Morocco</text>
<circle cx="675.2" cy="560.47" r="2.95" fill="#f58220"/><text class="lg" x="693.6" y="564.87">Niger</text>
<circle cx="675.2" cy="581.94" r="2.95" fill="#d9a4a4"/><text class="lg" x="693.6" y="586.34">Senegal</text>
<circle cx="675.2" cy="603.41" r="2.95" fill="#a57fc8"/><text class="lg" x="693.6" y="607.81">South Korea</text>
<circle cx="675.2" cy="624.88" r="2.95" fill="#6e429f"/><text class="lg" x="693.6" y="629.28">United Kingdom</text>
<circle cx="675.2" cy="646.35" r="2.95" fill="#d4c392"/><text class="lg" x="693.6" y="650.75">USA</text>
</g></svg></body></html>
